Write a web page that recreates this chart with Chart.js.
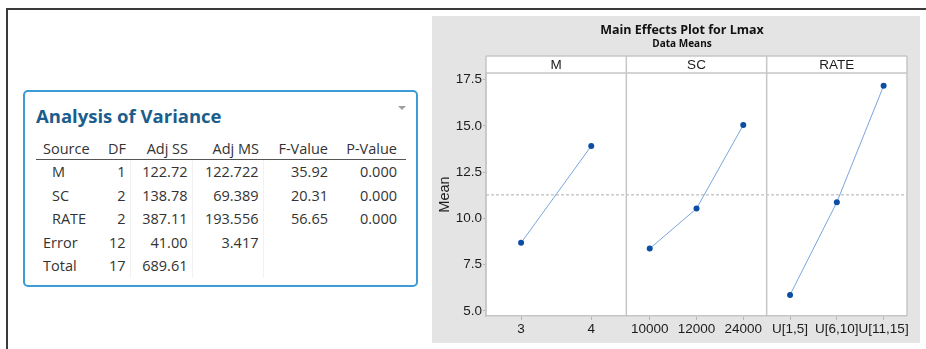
<!DOCTYPE html>
<html>
<head>
  <title>Main Effects Plot for Lmax</title>
  <script src="https://cdn.jsdelivr.net/npm/chart.js"></script>
  <style>
    body {
      margin: 0;
      width: 926px;
      height: 349px;
      position: relative;
      overflow: hidden;
      background: #fff;
      font-family: "Open Sans", sans-serif;
    }
    #frameTop { position: absolute; left: 6px; top: 8px; width: 920px; height: 2px; background: #3a3a3a; }
    #frameLeft { position: absolute; left: 6px; top: 8px; width: 2px; height: 341px; background: #3a3a3a; }
    #anova {
      position: absolute;
      left: 23px; top: 90px;
      width: 391px; height: 193px;
      border: 2px solid #3f9bd6;
      border-radius: 5px;
    }
    #anovaTitle {
      position: absolute;
      left: 36px; top: 104px;
      font-size: 18.5px;
      font-weight: bold;
      line-height: 24px;
      color: #1b5d8b;
      white-space: nowrap;
    }
    #drop {
      position: absolute;
      left: 398px; top: 106px;
      width: 0; height: 0;
      border-left: 4px solid transparent;
      border-right: 4px solid transparent;
      border-top: 4px solid #a0a0a0;
    }
    #anovaTable {
      position: absolute;
      left: 36px; top: 138px;
      border-collapse: collapse;
      table-layout: fixed;
      font-size: 14.5px;
      color: #333;
    }
    #anovaTable th, #anovaTable td {
      padding: 0 4px 0 0;
      text-align: right;
      font-weight: normal;
      white-space: nowrap;
    }
    #anovaTable th { height: 21px; line-height: 21px; border-bottom: 1.5px solid #555; }
    #anovaTable td { height: 23.5px; line-height: 23.5px; }
    #anovaTable th:first-child, #anovaTable td:first-child { text-align: left; padding: 0 0 0 7px; }
    #anovaTable td.sub { padding-left: 16px; }
    #anovaTable th:last-child, #anovaTable td:last-child { padding-right: 9px; }
    #anovaTable td:nth-child(3), #anovaTable td:nth-child(4), #anovaTable td:nth-child(5) { border-left: 1px solid #f1f1f1; }
    #plot {
      position: absolute;
      left: 432px; top: 16px;
      width: 488px; height: 327px;
      background: #e4e4e4;
    }
    #plot canvas { position: absolute; left: 0; top: 0; }
  </style>
</head>
<body>
<div id="frameTop"></div>
<div id="frameLeft"></div>

<div id="anova"></div>
<div id="anovaTitle">Analysis of Variance</div>
<div id="drop"></div>
<table id="anovaTable">
  <colgroup>
    <col style="width:64px"><col style="width:30px"><col style="width:62px">
    <col style="width:71px"><col style="width:69px"><col style="width:74px">
  </colgroup>
  <thead><tr id="anovaHead"></tr></thead>
  <tbody id="anovaBody"></tbody>
</table>

<div id="plot"><canvas id="effects" width="500" height="327"></canvas></div>

<script>
  // ANOVA table
  const anovaCols = ["Source", "DF", "Adj SS", "Adj MS", "F-Value", "P-Value"];
  const anovaSource = ["M", "SC", "RATE", "Error", "Total"];
  const anovaDF = ["1", "2", "2", "12", "17"];
  const anovaSS = ["122.72", "138.78", "387.11", "41.00", "689.61"];
  const anovaMS = ["122.722", "69.389", "193.556", "3.417", ""];
  const anovaF = ["35.92", "20.31", "56.65", "", ""];
  const anovaP = ["0.000", "0.000", "0.000", "", ""];

  // main effects plot
  const factors = ["M", "SC", "RATE"];
  const mLevels = ["3", "4"];
  const scLevels = ["10000", "12000", "24000"];
  const rateLevels = ["U[1,5]", "U[6,10]", "U[11,15]"];
  const mMeans = [8.68, 13.91];
  const scMeans = [8.37, 10.53, 15.04];
  const rateMeans = [5.87, 10.87, 17.16];
  const grandMean = 11.27;
  const yTicks = [5, 7.5, 10, 12.5, 15, 17.5];

  document.getElementById("anovaHead").innerHTML = anovaCols.map(c => "<th>" + c + "</th>").join("");
  let rows = "";
  for (let i = 0; i < anovaSource.length; i++) {
    const cls = i < 3 ? ' class="sub"' : "";
    rows += "<tr><td" + cls + ">" + anovaSource[i] + "</td><td>" + anovaDF[i] + "</td><td>" + anovaSS[i] +
      "</td><td>" + anovaMS[i] + "</td><td>" + anovaF[i] + "</td><td>" + anovaP[i] + "</td></tr>";
  }
  document.getElementById("anovaBody").innerHTML = rows;

  const axisFont = { family: "Liberation Sans", size: 13.5 };
  const textColor = "#1c1c1c";
  const lineGray = "#c6c6c6";
  const headerH = 17;

  function panelAxis(labels) {
    return {
      type: "category",
      labels: labels,
      position: "bottom",
      stack: "panels",
      offset: true,
      grid: { display: true, drawOnChartArea: false, drawTicks: true, tickLength: 4, color: "#b4b4b4" },
      border: { display: true, color: lineGray, width: 1.5 },
      ticks: { color: textColor, font: axisFont, padding: 1, maxRotation: 0, autoSkip: false },
      afterFit: function(s) { s.height = 27; }
    };
  }

  function series(values, axisId) {
    return {
      data: values,
      xAxisID: axisId,
      borderColor: "#7aa6dc",
      borderWidth: 1,
      tension: 0,
      pointRadius: 3,
      pointBackgroundColor: "#0b4fa5",
      pointBorderWidth: 0
    };
  }

  const panelIds = ["xM", "xSC", "xRATE"];

  // white plot area, header strips, panel dividers, grand mean line
  const panelPlugin = {
    id: "panels",
    beforeDraw(chart) {
      const ctx = chart.ctx, a = chart.chartArea;
      ctx.save();
      ctx.fillStyle = "#fff";
      ctx.fillRect(a.left, a.top - headerH, a.right - a.left, a.bottom - a.top + headerH);
      ctx.restore();
    },
    beforeDatasetsDraw(chart) {
      const ctx = chart.ctx, a = chart.chartArea;
      const y = chart.scales.y.getPixelForValue(grandMean);
      ctx.save();
      ctx.strokeStyle = "#b0b0b0";
      ctx.lineWidth = 1;
      ctx.setLineDash([3, 2]);
      ctx.beginPath();
      ctx.moveTo(a.left, y);
      ctx.lineTo(a.right, y);
      ctx.stroke();
      ctx.restore();
    },
    afterDraw(chart) {
      const ctx = chart.ctx, a = chart.chartArea;
      ctx.save();
      ctx.strokeStyle = lineGray;
      ctx.lineWidth = 1.5;
      ctx.beginPath();
      ctx.moveTo(a.left, a.top - headerH);
      ctx.lineTo(a.right, a.top - headerH);
      ctx.moveTo(a.left, a.top);
      ctx.lineTo(a.right, a.top);
      panelIds.forEach(id => {
        const s = chart.scales[id];
        ctx.moveTo(s.left, a.top - headerH);
        ctx.lineTo(s.left, a.bottom);
        ctx.moveTo(s.right, a.top - headerH);
        ctx.lineTo(s.right, a.bottom);
      });
      ctx.stroke();
      ctx.fillStyle = textColor;
      ctx.font = "13.5px 'Liberation Sans'";
      ctx.textAlign = "center";
      ctx.textBaseline = "middle";
      panelIds.forEach((id, i) => {
        const s = chart.scales[id];
        ctx.fillText(factors[i], (s.left + s.right) / 2, a.top - headerH / 2 + 0.5);
      });
      ctx.restore();
    }
  };

  new Chart(document.getElementById("effects"), {
    type: "line",
    data: {
      datasets: [
        series(mMeans, "xM"),
        series(scMeans, "xSC"),
        series(rateMeans, "xRATE")
      ]
    },
    options: {
      responsive: false,
      animation: false,
      layout: { padding: 0 },
      plugins: {
        legend: { display: false },
        tooltip: { enabled: false },
        title: {
          display: true,
          text: "Main Effects Plot for Lmax",
          color: "#111",
          font: { family: "Open Sans", size: 12.5, weight: "bold", lineHeight: 1.2 },
          padding: { top: 7, bottom: 0 }
        },
        subtitle: {
          display: true,
          text: "Data Means",
          color: "#111",
          font: { family: "Open Sans", size: 10, weight: "bold", lineHeight: 1.2 },
          padding: { top: 0, bottom: 23 }
        }
      },
      scales: {
        xM: panelAxis(mLevels),
        xSC: panelAxis(scLevels),
        xRATE: panelAxis(rateLevels),
        y: {
          position: "left",
          min: 4.73,
          max: 17.85,
          afterBuildTicks: function(s) { s.ticks = yTicks.map(v => ({ value: v })); },
          ticks: { color: textColor, font: axisFont, padding: 1, callback: v => v.toFixed(1) },
          grid: { drawOnChartArea: false, drawTicks: true, tickLength: 3, color: "#b4b4b4" },
          border: { display: true, color: lineGray, width: 1.5 },
          title: {
            display: true,
            text: "Mean",
            color: textColor,
            font: { family: "Liberation Sans", size: 14.5 },
            padding: { top: 4, bottom: 0 }
          },
          afterFit: function(s) { s.width = 54; }
        },
        // empty right-hand spacer so the title centres like the original
        spacer: {
          type: "linear",
          position: "right",
          grid: { display: false },
          border: { display: false },
          ticks: { display: false },
          afterFit: function(s) { s.width = 25; }
        }
      }
    },
    plugins: [panelPlugin]
  });
</script>
</body>
</html>
